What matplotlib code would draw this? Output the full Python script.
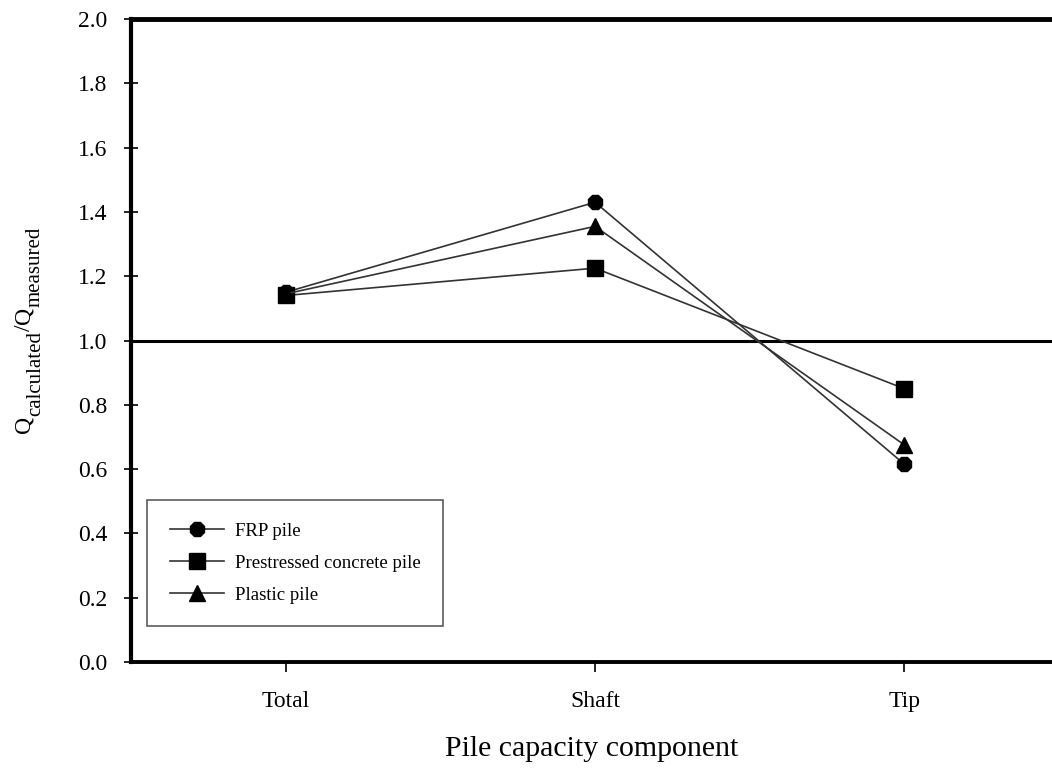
import matplotlib
matplotlib.use("Agg")
import matplotlib.pyplot as plt

plt.rcParams['font.family'] = ['Liberation Serif', 'DejaVu Serif']

categories = ["Total", "Shaft", "Tip"]
frp = [1.15, 1.43, 0.615]
prestressed = [1.14, 1.225, 0.85]
plastic = [1.145, 1.355, 0.675]
yticks = [0.0, 0.2, 0.4, 0.6, 0.8, 1.0, 1.2, 1.4, 1.6, 1.8, 2.0]

W, H = 1052, 772
fig = plt.figure(figsize=(W / 100, H / 100), dpi=100)
left, right, top, bottom = 131, 1052, 19, 662
ax = fig.add_axes([left / W, 1 - bottom / H, (right - left) / W, (bottom - top) / H])

x = list(range(len(categories)))
lc = '#333333'
ax.plot(x, frp, color=lc, lw=1.2, marker='8', ms=11, mfc='black', mec='black', label='FRP pile')
ax.plot(x, prestressed, color=lc, lw=1.2, marker='s', ms=11.5, mfc='black', mec='black', label='Prestressed concrete pile')
ax.plot(x, plastic, color=lc, lw=1.2, marker='^', ms=11, mfc='black', mec='black', label='Plastic pile')

ax.axhline(1.0, color='black', lw=2.2, zorder=1)

ax.set_xlim(-0.5, 2.477)
ax.set_ylim(0, 2.0)
ax.set_xticks(x)
ax.set_xticklabels(categories)
ax.set_yticks(yticks)
ax.set_yticklabels([f"{v:.1f}" for v in yticks])

ax.spines['right'].set_visible(False)
ax.spines['left'].set_linewidth(3)
ax.spines['bottom'].set_linewidth(2.8)
ax.spines['top'].set_linewidth(3.5)

ax.tick_params(axis='y', direction='inout', length=10, width=1.2, labelsize=17, pad=12)
ax.tick_params(axis='x', direction='out', length=7, width=1.2, labelsize=17, pad=14)

ax.set_xlabel("Pile capacity component", fontsize=21.5, labelpad=17)

leg = ax.legend(loc='upper left', bbox_to_anchor=((147 - left) / (right - left), (bottom - 500) / (bottom - top)),
                borderaxespad=0, fontsize=13.5, handlelength=2.9, handletextpad=0.6, labelspacing=0.8,
                borderpad=1.2, fancybox=False, frameon=True, edgecolor='#333333')
leg.get_frame().set_linewidth(1.2)

# y-axis label built from pieces (large Q, near-full-size subscripts)
pieces = [("Q", 17, 0), ("calculated", 15, 10), ("/", 17, 0), ("Q", 17, 0), ("measured", 15, 10)]
renderer = fig.canvas.get_renderer()
ybase_px = 433.0
xbase_px = 30.0
ycur = ybase_px
for txt, size, dx in pieces:
    t = fig.text((xbase_px + dx) / W, 1 - ycur / H, txt, fontsize=size, rotation=90,
                 rotation_mode='anchor', ha='left', va='baseline')
    ext = t.get_window_extent(renderer)
    ycur -= ext.height

fig.savefig("out.png", dpi=100, facecolor='white')
